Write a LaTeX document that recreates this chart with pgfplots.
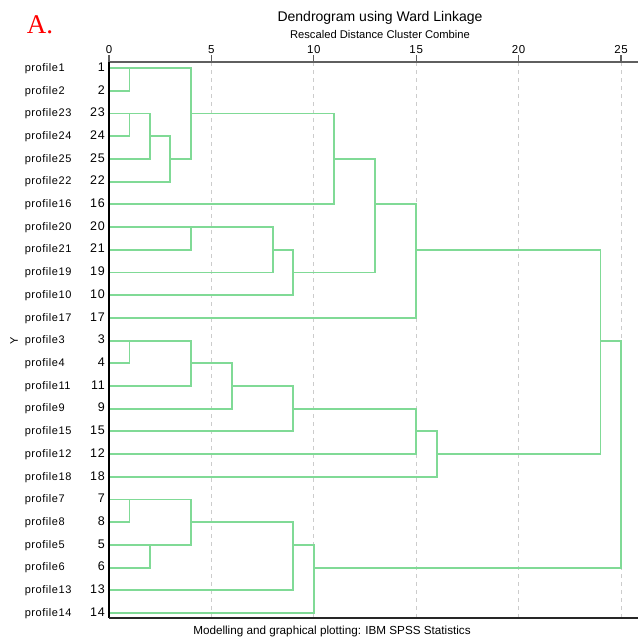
\documentclass[border=0pt]{standalone}
\usepackage{fontspec}
\setmainfont{Liberation Sans}
\newfontfamily\lbl[LetterSpace=5]{Liberation Sans}
\newfontfamily\numff[LetterSpace=6]{Liberation Sans}
\newfontfamily\serifA{Liberation Serif}
\usepackage{pgfplots}
\pgfplotsset{compat=1.18}
\definecolor{dgreen}{RGB}{128,218,150}
\definecolor{axgray}{RGB}{95,95,95}
\newcommand\lblf{\fontsize{11bp}{13bp}\lbl}
\newcommand\numf{\fontsize{12.5bp}{14bp}\numff}
\newcommand\pl[1]{\makebox[80bp]{{\lblf profile#1}\hfill{\numf #1}}}
\pgfplotsset{dend/.style={draw=dgreen, line width=1.9bp, mark=none}}
\begin{document}
\begin{tikzpicture}
\useasboundingbox (0,0) rectangle (638bp,-637bp);
\node[text=red, font=\fontsize{27bp}{30bp}\serifA] at (40bp,-25bp) {A.};
\node[font=\fontsize{14bp}{16bp}\selectfont] at (380bp,-18bp) {Dendrogram using Ward Linkage};
\node[font=\fontsize{11.2bp}{13bp}\selectfont] at (380bp,-34bp) {Rescaled Distance Cluster Combine};
\node[font=\fontsize{11.7bp}{13bp}\selectfont] at (332bp,-631bp) {Modelling and graphical plotting: IBM SPSS Statistics};
\node[rotate=90, font=\fontsize{11bp}{13bp}\selectfont] at (14bp,-341bp) {Y};
\begin{axis}[
  at={(109bp,-618bp)}, anchor=south west,
  scale only axis, width=529bp, height=556bp,
  xmin=0, xmax=25.83, ymin=0.73, ymax=25.22,
  y dir=reverse, clip=false,
  axis line style={draw=none},
  xtick={0,5,10,15,20,25},
  xtick pos=upper, xticklabel pos=upper,
  tick align=outside,
  major tick length=7bp,
  x tick style={draw=axgray, line width=1.2bp},
  xticklabel style={font=\fontsize{11.5bp}{13bp}\numff, inner sep=1bp},
  /pgf/number format/assume math mode=true,
  xmajorgrids,
  major x grid style={draw=gray!40, dash pattern=on 4bp off 4bp, line width=0.8bp},
  ytick={1,2,...,25},
  y tick style={draw=none},
  yticklabels={\pl{1},\pl{2},\pl{23},\pl{24},\pl{25},\pl{22},\pl{16},\pl{20},\pl{21},\pl{19},\pl{10},\pl{17},\pl{3},\pl{4},\pl{11},\pl{9},\pl{15},\pl{12},\pl{18},\pl{7},\pl{8},\pl{5},\pl{6},\pl{13},\pl{14}},
  yticklabel style={inner sep=0pt, anchor=east, xshift=3bp},
]
% top cluster
\addplot[dend] coordinates {(0,1) (1,1) (1,2) (0,2)};
\addplot[dend] coordinates {(0,3) (1,3) (1,4) (0,4)};
\addplot[dend] coordinates {(1,3) (2,3) (2,5) (0,5)};
\addplot[dend] coordinates {(2,4) (3,4) (3,6) (0,6)};
\addplot[dend] coordinates {(1,1) (4,1) (4,5) (3,5)};
\addplot[dend] coordinates {(4,3) (11,3) (11,7) (0,7)};
\addplot[dend] coordinates {(0,8) (4,8) (4,9) (0,9)};
\addplot[dend] coordinates {(4,8) (8,8) (8,10) (0,10)};
\addplot[dend] coordinates {(8,9) (9,9) (9,11) (0,11)};
\addplot[dend] coordinates {(11,5) (13,5) (13,10) (9,10)};
\addplot[dend] coordinates {(13,7) (15,7) (15,12) (0,12)};
% middle cluster
\addplot[dend] coordinates {(0,13) (1,13) (1,14) (0,14)};
\addplot[dend] coordinates {(1,13) (4,13) (4,15) (0,15)};
\addplot[dend] coordinates {(4,14) (6,14) (6,16) (0,16)};
\addplot[dend] coordinates {(6,15) (9,15) (9,17) (0,17)};
\addplot[dend] coordinates {(9,16) (15,16) (15,18) (0,18)};
\addplot[dend] coordinates {(15,17) (16,17) (16,19) (0,19)};
\addplot[dend] coordinates {(15,9) (24,9) (24,18) (16,18)};
% bottom cluster
\addplot[dend] coordinates {(0,20) (1,20) (1,21) (0,21)};
\addplot[dend] coordinates {(0,22) (2,22) (2,23) (0,23)};
\addplot[dend] coordinates {(1,20) (4,20) (4,22) (2,22)};
\addplot[dend] coordinates {(4,21) (9,21) (9,24) (0,24)};
\addplot[dend] coordinates {(9,22) (10,22) (10,25) (0,25)};
\addplot[dend] coordinates {(24,13) (25,13) (25,23) (10,23)};
% frame lines
\draw[axgray, line width=2bp] (axis cs:0,0.73) -- (axis cs:25.83,0.73);
\draw[black, line width=1.4bp] (axis cs:0,0.73) -- (axis cs:0,25.22);
\draw[black!85, line width=1.4bp] (axis cs:0,25.22) -- (axis cs:25.83,25.22);
\end{axis}
\end{tikzpicture}
\end{document}
